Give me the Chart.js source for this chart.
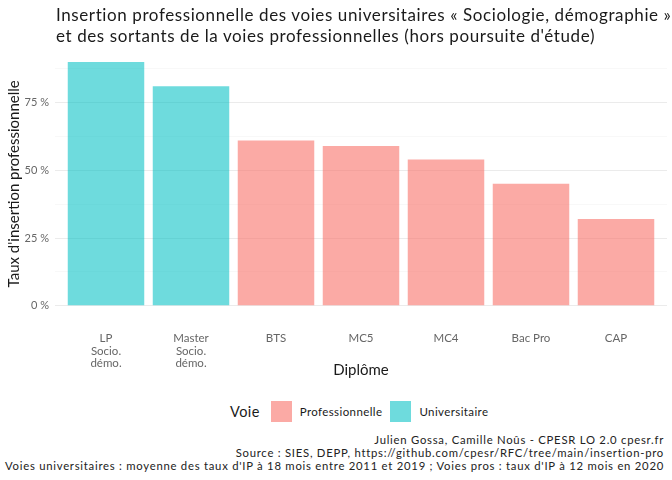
<!DOCTYPE html>
<html>
<head>
<meta charset="utf-8">
<script src="https://cdn.jsdelivr.net/npm/chart.js@4.4.1/dist/chart.umd.min.js"></script>
<style>
  body { margin: 0; background: #fff; font-family: Lato, sans-serif; }
  #wrap { position: relative; width: 672px; height: 480px; overflow: hidden; }
  #title { position: absolute; left: 56px; top: 4px; font-size: 17px; letter-spacing: 0.6px; line-height: 21px; color: #1a1a1a; white-space: nowrap; }
  #chart-box { position: absolute; left: 0; top: 0; width: 672px; height: 385px; }
  #legend { position: absolute; left: 230px; top: 400px; height: 22px; display: flex; align-items: center; font-size: 11.5px; letter-spacing: 0.4px; color: #1a1a1a; }
  #legend .ttl { font-size: 14.5px; margin-right: 11px; }
  #legend .sw { width: 21px; height: 21px; margin-right: 8px; }
  #legend .lab { margin-right: 8px; }
  #caption { position: absolute; right: 8px; top: 434px; text-align: right; font-size: 11.3px; letter-spacing: 0.75px; line-height: 12.8px; color: #222; white-space: nowrap; }
</style>
</head>
<body>
<div id="wrap">
  <div id="chart-box"><canvas id="ip-chart" width="672" height="385"></canvas></div>
  <div id="title">
    Insertion professionnelle des voies universitaires « Sociologie, démographie »<br>
    et des sortants de la voies professionnelles (hors poursuite d'étude)
  </div>
  <div id="legend"></div>
  <div id="caption">
    Julien Gossa, Camille Noûs - CPESR LO 2.0 cpesr.fr<br>
    Source : SIES, DEPP, https://github.com/cpesr/RFC/tree/main/insertion-pro<br>
    Voies universitaires : moyenne des taux d'IP à 18 mois entre 2011 et 2019 ; Voies pros : taux d'IP à 12 mois en 2020
  </div>
</div>

<script>
  // data
  const diplomes = [['LP', 'Socio.', 'démo.'], ['Master', 'Socio.', 'démo.'], 'BTS', 'MC5', 'MC4', 'Bac Pro', 'CAP'];
  const voies = ['Universitaire', 'Universitaire', 'Professionnelle', 'Professionnelle', 'Professionnelle', 'Professionnelle', 'Professionnelle'];
  const tauxIP = [90, 81, 61, 59, 54, 45, 32];
  const voieLabels = ['Professionnelle', 'Universitaire'];
  const voieColors = ['rgba(248, 118, 109, 0.62)', 'rgba(0, 191, 196, 0.57)'];
  const yTicks = [0, 25, 50, 75];

  function initChart() {
    const ctx = document.getElementById('ip-chart').getContext('2d');

    const datasets = voieLabels.map((v, k) => ({
      label: v,
      data: tauxIP.map((t, i) => ({ x: i, y: t })).filter((_, i) => voies[i] === v),
      backgroundColor: voieColors[k],
      borderWidth: 0,
      grouped: false,
      categoryPercentage: 1,
      barPercentage: 0.9
    }));

    const chart = new Chart(ctx, {
      type: 'bar',
      data: { datasets },
      options: {
        responsive: false,
        animation: false,
        layout: { padding: { top: 49.7, right: 5, left: 0, bottom: 0 } },
        plugins: { legend: { display: false }, tooltip: { enabled: false } },
        scales: {
          x: {
            type: 'linear',
            min: -0.6,
            max: 6.6,
            offset: false,
            grid: { display: false },
            border: { display: false },
            ticks: {
              stepSize: 1,
              includeBounds: false,
              autoSkip: false,
              maxRotation: 0,
              padding: 6,
              color: '#666',
              font: { family: 'Lato', size: 11.5, lineHeight: 1.1 },
              callback: v => (Number.isInteger(v) && diplomes[v] !== undefined) ? diplomes[v] : ''
            },
            title: {
              display: true,
              text: 'Diplôme',
              color: '#1a1a1a',
              font: { family: 'Lato', size: 15 },
              padding: { top: 0, bottom: 6 }
            },
            afterFit: s => { s.height = 67; }
          },
          y: {
            min: -4.5,
            max: 94.5,
            border: { display: false },
            grid: {
              drawTicks: false,
              color: c => (c.tick && c.tick.value % 25 === 0) ? '#EBEBEB' : '#F3F3F3',
              lineWidth: c => (c.tick && c.tick.value % 25 === 0) ? 1.1 : 0.6
            },
            ticks: {
              stepSize: 12.5,
              includeBounds: false,
              padding: 6,
              color: '#666',
              font: { family: 'Lato', size: 11 },
              callback: v => yTicks.includes(v) ? v + ' %' : ''
            },
            title: {
              display: true,
              text: "Taux d'insertion professionnelle",
              color: '#1a1a1a',
              font: { family: 'Lato', size: 15 },
              padding: { top: 5, bottom: 0 }
            },
            afterFit: s => { s.width = 55; }
          }
        }
      }
    });

    // legend with its title on the left, as ggplot draws it
    const legend = document.getElementById('legend');
    legend.innerHTML = '<span class="ttl">Voie</span>' + chart.data.datasets.map(d =>
      `<span class="sw" style="background:${d.backgroundColor}"></span><span class="lab">${d.label}</span>`
    ).join('');
  }

  requestAnimationFrame(initChart);
</script>
</body>
</html>
